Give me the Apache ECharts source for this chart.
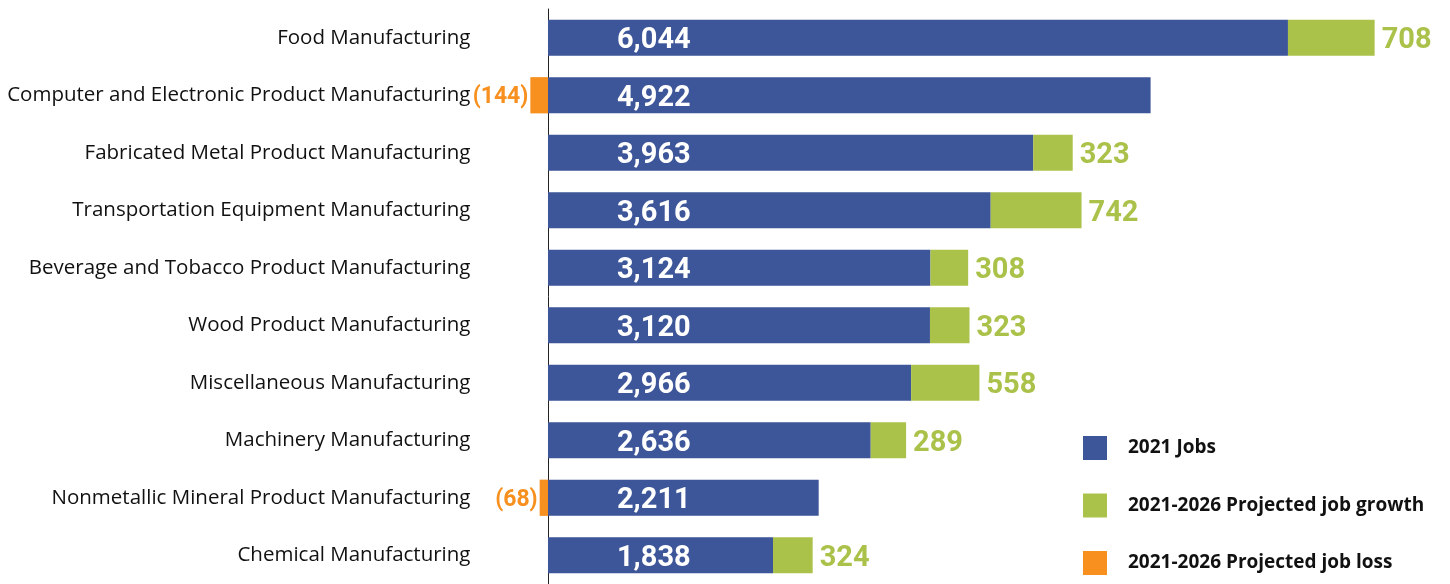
<!DOCTYPE html>
<html><head><meta charset="utf-8">
<script src="https://cdn.jsdelivr.net/npm/echarts@6/dist/echarts.min.js"></script>
<style>html,body{margin:0;padding:0;background:#fff}#c{width:1450px;height:584px}</style>
</head><body><div id="c"></div>
<script>
const categories = ["Food Manufacturing","Computer and Electronic Product Manufacturing","Fabricated Metal Product Manufacturing","Transportation Equipment Manufacturing","Beverage and Tobacco Product Manufacturing","Wood Product Manufacturing","Miscellaneous Manufacturing","Machinery Manufacturing","Nonmetallic Mineral Product Manufacturing","Chemical Manufacturing"];
const jobs2021 = [6044,4922,3963,3616,3124,3120,2966,2636,2211,1838];
const jobGrowth = [708,null,323,742,308,323,558,289,null,324];
const jobLoss = [null,-144,null,null,null,null,null,null,-68,null];
const seriesNames = ["2021 Jobs","2021-2026 Projected job growth","2021-2026 Projected job loss"];

const chart = echarts.init(document.getElementById('c'));
const fmt = v => v.toLocaleString('en-US');
chart.setOption({
  animation:false,
  legend:{orient:'vertical',left:1083,top:436,height:160,padding:0,itemWidth:24,itemHeight:24,itemGap:33.5,icon:'rect',
    textStyle:{fontFamily:'Open Sans',fontWeight:'bold',fontSize:19,color:'#111',padding:[0,0,0,16]},
    data:seriesNames},
  grid:{left:523.5,right:45,top:9,bottom:0,containLabel:false},
  xAxis:{type:'value',min:-200,max:7000,show:false,splitLine:{show:false}},
  yAxis:{type:'category',data:categories,inverse:true,
    axisLine:{show:true,onZero:true,lineStyle:{color:'#222',width:1}},
    axisTick:{show:false},
    axisLabel:{fontFamily:'Open Sans',fontSize:20.5,color:'#111',margin:53,padding:[8,0,0,0]}},
  series:[
    {name:seriesNames[0],type:'bar',stack:'a',data:jobs2021,barCategoryGap:'37%',
      itemStyle:{color:'#3d5599'},
      label:{show:true,position:'insideLeft',distance:69,offset:[0,3],color:'#fff',fontFamily:'Roboto',fontWeight:'bold',fontSize:29,
        formatter:p=>fmt(p.value)}},
    {name:seriesNames[1],type:'bar',stack:'a',data:jobGrowth,
      itemStyle:{color:'#abc24a'},
      label:{show:true,position:'right',distance:7,offset:[0,3],color:'#abc24a',fontFamily:'Roboto',fontWeight:'bold',fontSize:29,
        formatter:p=>fmt(p.value)}},
    {name:seriesNames[2],type:'bar',stack:'a',data:jobLoss,
      itemStyle:{color:'#f7901e'},
      label:{show:true,position:'left',distance:2,offset:[0,2],color:'#f7901e',fontFamily:'Roboto',fontWeight:'bold',fontSize:23,
        formatter:p=>'('+fmt(Math.abs(p.value))+')'}}
  ]
});
</script></body></html>
